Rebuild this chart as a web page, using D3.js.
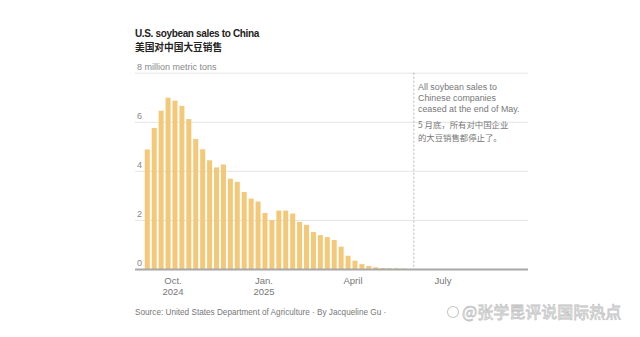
<!DOCTYPE html>
<html>
<head>
<meta charset="utf-8">
<script src="https://cdn.jsdelivr.net/npm/d3@7"></script>
<style>
  body { margin: 0; background: #fff; }
  svg { display: block; font-family: "Liberation Sans", Arial, "Noto Sans CJK SC", sans-serif; }
</style>
</head>
<body>
<div id="chart"></div>
<script>
// weekly export sales, million metric tons (week of ...)
var firstWeek = "2024-09-05";
var sales = [4.87, 5.75, 6.45, 6.98, 6.86, 6.65, 6.11, 5.30, 4.88, 4.43,
             4.14, 4.26, 3.68, 3.55, 3.14, 2.87, 2.75, 2.28, 1.99, 2.38,
             2.38, 2.26, 1.92, 1.80, 1.51, 1.38, 1.30, 1.18, 0.91, 0.54,
             0.34, 0.20, 0.12, 0.07, 0.04, 0.03, 0.03, 0.02];
var yTicks = [0, 2, 4, 6, 8];
var xTicks = [
  {date: "2024-10-01", line1: "Oct.", line2: "2024"},
  {date: "2025-01-01", line1: "Jan.", line2: "2025"},
  {date: "2025-04-01", line1: "April", line2: ""},
  {date: "2025-07-01", line1: "July", line2: ""}
];
var cutoff = "2025-06-01";
var noteEn = ["All soybean sales to", "Chinese companies", "ceased at the end of May."];
var noteZh = ["5 月底，所有对中国企业", "的大豆销售都停止了。"];

var width = 640, height = 337;
var parse = d3.timeParse("%Y-%m-%d");
var cjk = "'Noto Sans CJK SC', sans-serif";

var data = sales.map(function(v, i) {
  return {date: d3.timeDay.offset(parse(firstWeek), i * 7), value: v};
});

var svg = d3.select("#chart").append("svg")
    .attr("width", width)
    .attr("height", height);

svg.append("rect").attr("width", width).attr("height", height).attr("fill", "#fff");

var x = d3.scaleTime()
    .domain([parse("2024-10-01"), parse("2025-07-01")])
    .range([173, 443]);

var y = d3.scaleLinear()
    .domain([0, 8])
    .range([269, 72.7]);

var left = 135, right = 528;

// title block
svg.append("text")
    .attr("x", 135).attr("y", 37)
    .attr("font-size", 10).attr("font-weight", "bold").attr("fill", "#222")
    .attr("letter-spacing", "-0.35")
    .text("U.S. soybean sales to China");
svg.append("text")
    .attr("x", 135).attr("y", 51)
    .attr("font-size", 9.7).attr("font-weight", "bold").attr("fill", "#222")
    .attr("font-family", cjk)
    .text("美国对中国大豆销售");

// gridlines
var grid = svg.append("g");
grid.selectAll("line")
    .data(yTicks.filter(function(d) { return d > 0; }))
    .enter().append("line")
    .attr("x1", left).attr("x2", right)
    .attr("y1", function(d) { return y(d) + 0.5; })
    .attr("y2", function(d) { return y(d) + 0.5; })
    .attr("stroke", "#e4e4e4")
    .attr("stroke-width", 1);

grid.selectAll("text")
    .data(yTicks)
    .enter().append("text")
    .attr("x", 137)
    .attr("y", function(d) { return y(d) - 3; })
    .attr("font-size", 9)
    .attr("fill", "#888")
    .text(function(d) { return d === 8 ? "8 million metric tons" : d; });

// cutoff marker
svg.append("line")
    .attr("x1", x(parse(cutoff)) + 0.5).attr("x2", x(parse(cutoff)) + 0.5)
    .attr("y1", y(8)).attr("y2", y(0))
    .attr("stroke", "#b5b5b5")
    .attr("stroke-dasharray", "2,2");

// bars
var barW = 5;
svg.append("g").selectAll("rect")
    .data(data)
    .enter().append("rect")
    .attr("x", function(d) { return x(d.date) - barW / 2; })
    .attr("y", function(d) { return y(d.value); })
    .attr("width", barW)
    .attr("height", function(d) { return y(0) - y(d.value); })
    .attr("fill", "#f3c878");

// baseline
svg.append("line")
    .attr("x1", left).attr("x2", right)
    .attr("y1", y(0) + 0.5).attr("y2", y(0) + 0.5)
    .attr("stroke", "#a8a8a8")
    .attr("stroke-width", 2);

// x labels
var xl = svg.append("g").selectAll("g")
    .data(xTicks)
    .enter().append("g")
    .attr("transform", function(d) { return "translate(" + x(parse(d.date)) + ",0)"; });
xl.append("text")
    .attr("y", 284).attr("text-anchor", "middle")
    .attr("font-size", 9.5).attr("fill", "#777")
    .text(function(d) { return d.line1; });
xl.append("text")
    .attr("y", 295).attr("text-anchor", "middle")
    .attr("font-size", 9.5).attr("fill", "#777")
    .text(function(d) { return d.line2; });

// annotation
var note = svg.append("g").attr("transform", "translate(418,0)");
note.selectAll("text.en")
    .data(noteEn)
    .enter().append("text")
    .attr("class", "en")
    .attr("y", function(d, i) { return 90 + i * 11; })
    .attr("font-size", 8.9).attr("fill", "#777")
    .text(function(d) { return d; });
note.selectAll("text.zh")
    .data(noteZh)
    .enter().append("text")
    .attr("class", "zh")
    .attr("y", function(d, i) { return 128 + i * 12.5; })
    .attr("font-size", 8.4).attr("fill", "#777")
    .attr("font-family", cjk)
    .text(function(d) { return d; });

// source line
svg.append("text")
    .attr("x", 135).attr("y", 315)
    .attr("font-size", 8.2).attr("fill", "#777")
    .text("Source: United States Department of Agriculture  ·  By Jacqueline Gu  ·");

// watermark
var wm = svg.append("g").attr("transform", "translate(446,318)");
wm.append("circle").attr("cx", 7).attr("cy", -6).attr("r", 5.5)
    .attr("fill", "none").attr("stroke", "#c8c8c8").attr("stroke-width", 1.1);
wm.append("text")
    .attr("x", 16)
    .attr("font-size", 16)
    .attr("font-family", cjk)
    .attr("fill", "#fff").attr("stroke", "#c4c4c4").attr("stroke-width", 0.8)
    .text("@张学昆评说国际热点");
</script>
</body>
</html>
